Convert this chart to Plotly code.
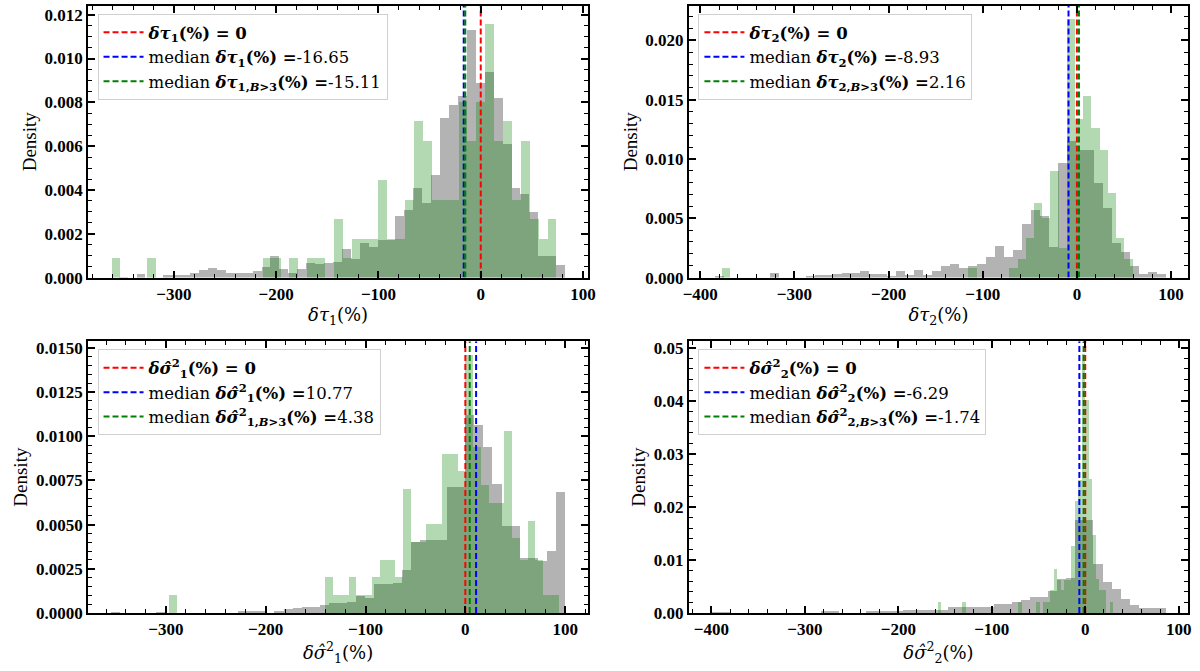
import plotly.graph_objects as go

# ---------------- data (densities) ----------------
# Panel 1: delta tau_1
t1_all_start, t1_all_width = -354.0, 8.73
t1_all = [0.00005, 0, 0.00015, 0, 0, 0.00011, 0.00011, 0.00011, 0.00022, 0.00033,
          0.00044, 0.00033, 0.00022, 0.00022, 0.00022, 0.0003, 0.0005, 0.001, 0.0004, 0.0002,
          0.0004, 0.00067, 0.0006, 0.00067, 0.0007, 0.0013, 0.00085, 0.00157, 0.0014, 0.0017,
          0.0017, 0.0028, 0.0031, 0.0041, 0.0034, 0.0047, 0.0073, 0.0079, 0.0083, 0.0113,
          0.0089, 0.0094, 0.0082, 0.0061, 0.0041, 0.0038, 0.003, 0.001, 0.001, 0.00057]
t1_b3_start, t1_b3_width = -361.0, 8.7
t1_b3 = [0.00089, 0, 0, 0, 0.00089, 0, 0, 0, 0, 0,
         0, 0, 0, 0, 0, 0, 0, 0.00089, 0.00089, 0,
         0.00089, 0, 0.00089, 0.00089, 0, 0.00267, 0.00089, 0.00178, 0.00178, 0.00178,
         0.00446, 0.00178, 0.00178, 0.00356, 0.00713, 0.00624, 0.00356, 0.00356, 0.00356, 0.00802,
         0.00624, 0.00802, 0.01158, 0.00624, 0.00713, 0.00356, 0.00624, 0.00267, 0.00178, 0.00267]
t1_median, t1_median_b3 = -16.65, -15.11

# Panel 2: delta tau_2
t2_all_start, t2_all_width = -384.0, 9.58
t2_all = [0.00014, 0, 0, 0, 0, 0, 0.00036, 0, 0, 0,
          0.00014, 0.0002, 0.0002, 0.0003, 0.00036, 0.00036, 0.00055, 0.0003, 0.0003, 0.00017,
          0.00055, 0.0002, 0.00063, 0.0002, 0.00055, 0.001, 0.00115, 0.0008, 0.00096, 0.00115,
          0.0017, 0.0027, 0.0017, 0.0023, 0.0045, 0.0057, 0.0052, 0.0026, 0.0097, 0.0115,
          0.0108, 0.0108, 0.008, 0.0059, 0.0029, 0.0022, 0.001, 0.00027, 0.00047, 0.00027]
t2_b3_start, t2_b3_width = -377.0, 8.72
t2_b3 = [0.00082, 0, 0, 0, 0, 0, 0, 0, 0, 0,
         0, 0, 0, 0, 0, 0, 0, 0, 0, 0,
         0, 0, 0, 0, 0, 0, 0, 0, 0, 0,
         0.00082, 0, 0, 0, 0, 0.00082, 0.0016, 0.0033, 0.0063, 0.005,
         0.009, 0.0025, 0.0218, 0.0134, 0.0153, 0.0126, 0.0108, 0.0071, 0.0033, 0.0016]
t2_median, t2_median_b3 = -8.93, 2.16

# Panel 3: delta sigma_1^2
s1_all_start, s1_all_width = -355.0, 9.1
s1_all = [0.00005, 0, 0, 0, 0, 0.00005, 0, 0, 0, 0,
          0, 0, 0, 0, 0.0001, 0.0001, 0.0001, 0, 0.0001, 0.0002,
          0.00027, 0.0003, 0.0003, 0.00046, 0.00055, 0.00055, 0.0006, 0.00092, 0.00083, 0.0016,
          0.0016, 0.0017, 0.0024, 0.004, 0.0041, 0.0041, 0.0041, 0.0071, 0.0071, 0.0112,
          0.0106, 0.0094, 0.0073, 0.0049, 0.0049, 0.0031, 0.0031, 0.0029, 0.0035, 0.0068]
s1_b3_start, s1_b3_width = -296.4, 7.8
s1_b3 = [0.001, 0, 0, 0, 0, 0, 0, 0, 0, 0,
         0, 0, 0, 0, 0, 0, 0, 0, 0, 0,
         0.002, 0.001, 0.001, 0.002, 0.001, 0.001, 0.002, 0.003, 0.003, 0.002,
         0.007, 0.004, 0.004, 0.005, 0.005, 0.009, 0.009, 0.008, 0.0146, 0.0094,
         0.0072, 0.0062, 0.0062, 0.0103, 0.0042, 0.003, 0.0052, 0.003, 0.001, 0.001]
s1_median, s1_median_b3 = 10.77, 4.38

# Panel 4: delta sigma_2^2
s2_all_start, s2_all_width = -399.5, 9.72
s2_all = [0.0002, 0.0002, 0, 0, 0, 0, 0, 0, 0, 0,
          0, 0, 0.0003, 0.0003, 0, 0, 0, 0.0003, 0.0003, 0.0003,
          0.0003, 0.0005, 0.0005, 0.0005, 0.0005, 0.0005, 0.0011, 0.0011, 0.0011, 0.0011,
          0.0011, 0.0017, 0.0017, 0.002, 0.0023, 0.0029, 0.0029, 0.0041, 0.0064, 0.0066,
          0.0174, 0.0174, 0.0091, 0.0058, 0.0045, 0.0025, 0.0015, 0.0009, 0.0009, 0.0009]
s2_b3_start, s2_b3_width = -158.0, 3.76
s2_b3 = [0.002, 0, 0, 0, 0, 0, 0, 0.002, 0, 0,
         0, 0, 0, 0, 0, 0, 0, 0, 0, 0,
         0, 0, 0, 0.002, 0, 0, 0, 0, 0.002, 0,
         0.002, 0.002, 0.0042, 0.0083, 0.0062, 0.0042, 0.0062, 0.0062, 0.0125, 0.021,
         0.025, 0.0488, 0.040, 0.0252, 0.0146, 0.0063, 0.0042, 0.0042, 0, 0.002]
s2_median, s2_median_b3 = -6.29, -1.74

# ---------------- text ----------------
B = "<b>"; EB = "</b>"
TAU = "<i>δτ</i>"
SIG = "<i>δσ\u0302</i>"
labels = [
    dict(xl=f"{TAU}<sub>1</sub>(%)",
         zero=f"{B}{TAU}<sub>1</sub>(%) = 0{EB}",
         med=f"median {B}{TAU}<sub>1</sub>(%) ={EB}-16.65",
         medb=f"median {B}{TAU}<sub>1,<i>B</i>&gt;3</sub>(%) ={EB}-15.11"),
    dict(xl=f"{TAU}<sub>2</sub>(%)",
         zero=f"{B}{TAU}<sub>2</sub>(%) = 0{EB}",
         med=f"median {B}{TAU}<sub>2</sub>(%) ={EB}-8.93",
         medb=f"median {B}{TAU}<sub>2,<i>B</i>&gt;3</sub>(%) ={EB}2.16"),
    dict(xl=f"{SIG}<sup>2</sup><sub>1</sub>(%)",
         zero=f"{B}{SIG}<sup>2</sup><sub>1</sub>(%) = 0{EB}",
         med=f"median {B}{SIG}<sup>2</sup><sub>1</sub>(%) ={EB}10.77",
         medb=f"median {B}{SIG}<sup>2</sup><sub>1,<i>B</i>&gt;3</sub>(%) ={EB}4.38"),
    dict(xl=f"{SIG}<sup>2</sup><sub>2</sub>(%)",
         zero=f"{B}{SIG}<sup>2</sup><sub>2</sub>(%) = 0{EB}",
         med=f"median {B}{SIG}<sup>2</sup><sub>2</sub>(%) ={EB}-6.29",
         medb=f"median {B}{SIG}<sup>2</sup><sub>2,<i>B</i>&gt;3</sub>(%) ={EB}-1.74"),
]

panels = [
    dict(all=(t1_all_start, t1_all_width, t1_all), b3=(t1_b3_start, t1_b3_width, t1_b3),
         med=t1_median, medb=t1_median_b3, xr=[-384, 105], yr=[0, 0.0124],
         xd=100, xm=20, yd=0.002, ym=0.0005, yf=".3f"),
    dict(all=(t2_all_start, t2_all_width, t2_all), b3=(t2_b3_start, t2_b3_width, t2_b3),
         med=t2_median, medb=t2_median_b3, xr=[-412, 118], yr=[0, 0.0229],
         xd=100, xm=20, yd=0.005, ym=0.001, yf=".3f"),
    dict(all=(s1_all_start, s1_all_width, s1_all), b3=(s1_b3_start, s1_b3_width, s1_b3),
         med=s1_median, medb=s1_median_b3, xr=[-378, 123], yr=[0, 0.01537],
         xd=100, xm=20, yd=0.0025, ym=0.0005, yf=".4f"),
    dict(all=(s2_all_start, s2_all_width, s2_all), b3=(s2_b3_start, s2_b3_width, s2_b3),
         med=s2_median, medb=s2_median_b3, xr=[-424, 110], yr=[0, 0.0512],
         xd=100, xm=20, yd=0.01, ym=0.002, yf=".2f"),
]

# ---------------- layout geometry (pixels) ----------------
W, H = 1200, 671
xdom_px = [(83, 589), (691, 1196), (83, 589), (691, 1196)]
ydom_px = [(3, 280), (3, 280), (345, 622), (345, 622)]

TICKFONT = "Liberation Serif"
TEXTFONT = "DejaVu Serif"
fig = go.Figure()

for k, p in enumerate(panels):
    sfx = "" if k == 0 else str(k + 1)
    xa, ya = "x" + sfx, "y" + sfx
    leg = "legend" + sfx
    for (start, width, vals), col in ((p["all"], "rgba(128,128,128,0.6)"),
                                      (p["b3"], "rgba(0,128,0,0.3)")):
        centers = [start + width * (i + 0.5) for i in range(len(vals))]
        fig.add_trace(go.Bar(x=centers, y=vals, width=width, xaxis=xa, yaxis=ya,
                             marker=dict(color=col, line=dict(width=0)),
                             showlegend=False, hoverinfo="skip"))
    lab = labels[k]
    for val, colr, name in ((0, "red", lab["zero"]), (p["med"], "blue", lab["med"]),
                            (p["medb"], "green", lab["medb"])):
        fig.add_trace(go.Scatter(x=[val, val], y=p["yr"], mode="lines", xaxis=xa, yaxis=ya,
                                 line=dict(color=colr, width=2, dash="6px,3px"),
                                 name=name, legend=leg, showlegend=True))

    x0, x1 = xdom_px[k]
    y0, y1 = ydom_px[k]
    xdom = [x0 / W, x1 / W]
    ydom = [1 - y1 / H, 1 - y0 / H]
    axcommon = dict(showline=True, linecolor="black", linewidth=2, mirror="allticks",
                    ticks="inside", ticklen=7, tickwidth=1.6, tickcolor="black",
                    showgrid=False, zeroline=False,
                    tickfont=dict(family=TICKFONT, size=17, color="black", weight="bold"))
    fig.layout["xaxis" + sfx] = dict(
        axcommon, domain=xdom, range=p["xr"], anchor=ya, tick0=0, dtick=p["xd"],
        minor=dict(ticks="inside", ticklen=4, tickwidth=1.2, tickcolor="black",
                   tick0=0, dtick=p["xm"]),
        title=dict(text=lab["xl"], font=dict(family=TEXTFONT, size=18, color="black"), standoff=3))
    fig.layout["yaxis" + sfx] = dict(
        axcommon, domain=ydom, range=p["yr"], anchor=xa, tick0=0, dtick=p["yd"],
        tickformat=p["yf"],
        minor=dict(ticks="inside", ticklen=4, tickwidth=1.2, tickcolor="black",
                   tick0=0, dtick=p["ym"]),
        title=dict(text="Density", font=dict(family=TICKFONT, size=19, color="black"), standoff=3))
    fig.layout[leg] = dict(
        x=xdom[0] + 0.019 * (xdom[1] - xdom[0]), y=ydom[1] - 0.03 * (ydom[1] - ydom[0]),
        xanchor="left", yanchor="top", xref="paper", yref="paper",
        bgcolor="rgba(255,255,255,0.8)", bordercolor="#d0d0d0", borderwidth=1,
        font=dict(family=TEXTFONT, size=16.5, color="black"), itemwidth=40, tracegroupgap=0)

fig.update_layout(width=W, height=H, margin=dict(l=0, r=0, t=0, b=0),
                  barmode="overlay", bargap=0, plot_bgcolor="white", paper_bgcolor="white")

fig.write_html("out.html")
